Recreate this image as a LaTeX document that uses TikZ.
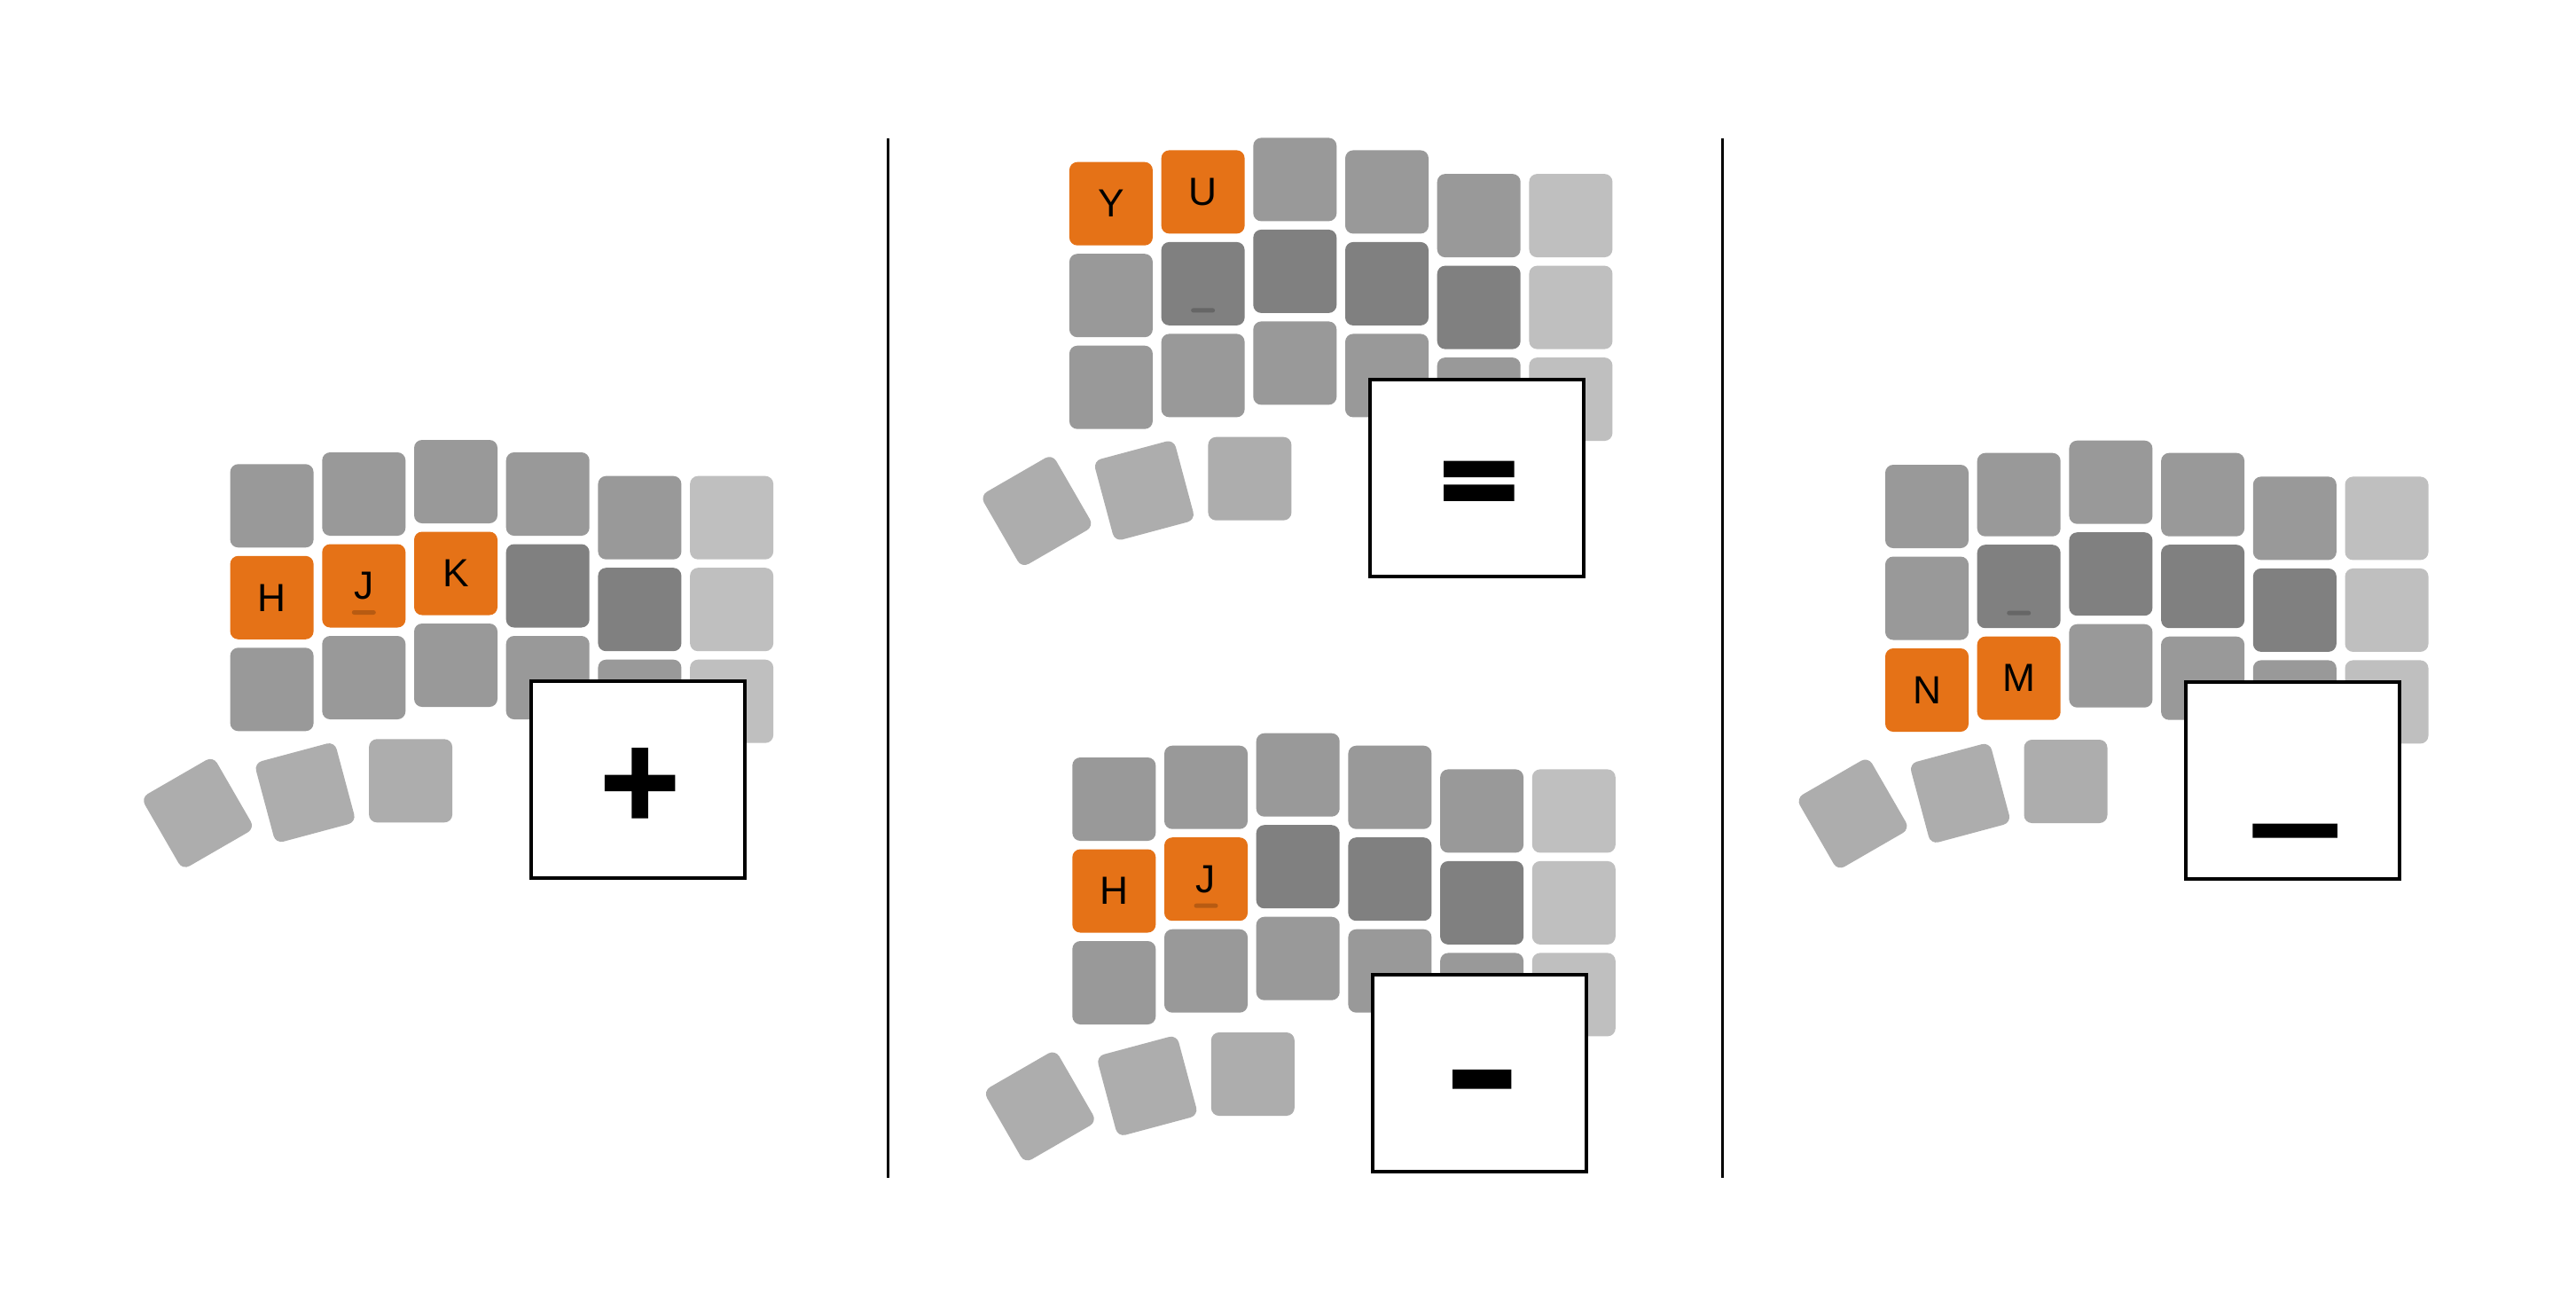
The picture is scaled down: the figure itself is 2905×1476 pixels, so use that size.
\documentclass[tikz,border=0pt]{standalone}
\usepackage{fontspec}
\setmainfont{Liberation Sans}
\newfontfamily\keysymfont{DejaVu Sans Bold}[FakeBold=4]
\definecolor{KeyOrange}{RGB}{229,114,23}
\definecolor{KeyMid}{RGB}{153,153,153}
\definecolor{KeyDark}{RGB}{128,128,128}
\definecolor{KeyLight}{RGB}{191,191,191}
\definecolor{KeyThumb}{RGB}{173,173,173}
\newcommand{\keytxt}{}

\begin{document}
\begin{tikzpicture}[x=0.1mm, y=-0.1mm,
	   every node/.style={inner sep=0pt},
	   key/.style={rectangle, rounded corners=0.9mm, minimum size=9.4mm, fill=KeyMid,
	               font=\fontsize{12.6}{14}\selectfont},
	   dark/.style={fill=KeyDark},
	   light/.style={fill=KeyLight},
	   thumb/.style={key, fill=KeyThumb},
	   hotkey/.style={fill=KeyOrange, /utils/exec={\def\keytxt{#1}}},
	   bump/.style={rectangle, rounded corners=0.25mm, minimum width=2.7mm,
	                minimum height=0.5mm, fill=black, fill opacity=0.2},
	   symbox/.style={rectangle, draw=black, line width=0.4mm, fill=white,
	                  minimum width=24.1mm, minimum height=22.2mm},
	   symtext/.style={font=\keysymfont\fontsize{34}{34}\selectfont, anchor=base,
	                   transform shape},
	   %% default shading of the half
	   c1r1/.style={dark}, c2r1/.style={dark}, c3r1/.style={dark}, c4r1/.style={dark},
	   c5r0/.style={light}, c5r1/.style={light}, c5r2/.style={light},
	   %% keys held for each symbol
	   plus_c0r1/.style={hotkey=H}, plus_c1r1/.style={hotkey=J}, plus_c2r1/.style={hotkey=K},
	   equal_c0r0/.style={hotkey=Y}, equal_c1r0/.style={hotkey=U},
	   minus_c0r1/.style={hotkey=H}, minus_c1r1/.style={hotkey=J},
	   under_c0r2/.style={hotkey=N}, under_c1r2/.style={hotkey=M},
	   %% glyph widths as in the picture
	   minus_sym/.style={xscale=1.6},
	   under_sym/.style={xscale=1.48, yshift=0.7mm}]
	\fill[white] (0,0) rectangle (2905,1476);

	%% One half keyboard per symbol
	\foreach \name/\ox/\oy/\sym in {plus/259.6/523.3/+, equal/1205.9/182.7/=,
	                                minus/1209.3/854/-, under/2126/524/\_}{
		\begin{scope}[shift={(\ox,\oy)}]
			\foreach \kc/\dy in {0/0, 1/-13.3, 2/-27.3, 3/-13.3, 4/13.4, 5/13.4}
				\foreach \kr in {0,1,2}
					\node [key, c\kc r\kr/.try, \name_c\kc r\kr/.try] (\name_c\kc r\kr)
					      at ({47+103.7*\kc}, {47+\dy+103.5*\kr}) {\keytxt};
			\node [bump] (\name_bump) at ([yshift=-3mm]\name_c1r1.center) {};
			%% thumb cluster
			\node [thumb, rotate=30] (\name_t1) at (-36.5, 393.4) {};
			\node [thumb, rotate=15] (\name_t2) at (84.5, 370.3) {};
			\node [thumb] (\name_t3) at (203.5, 357) {};
			%% resulting symbol
			\node [symbox] (\name_box) at (459.5, 356) {};
			\begin{scope}[shift={(462,397)}]
				\node [symtext, \name_sym/.try] (\name_sym) {\sym};
			\end{scope}
		\end{scope}
	}

	%% Separators
	\coordinate (sepa_top) at (1001.5,156);
	\coordinate (sepa_bot) at (1001.5,1328);
	\coordinate (sepb_top) at (1942.5,156);
	\coordinate (sepb_bot) at (1942.5,1328);
	\draw[line width=0.25mm] (sepa_top) -- (sepa_bot);
	\draw[line width=0.25mm] (sepb_top) -- (sepb_bot);
\end{tikzpicture}
\end{document}
